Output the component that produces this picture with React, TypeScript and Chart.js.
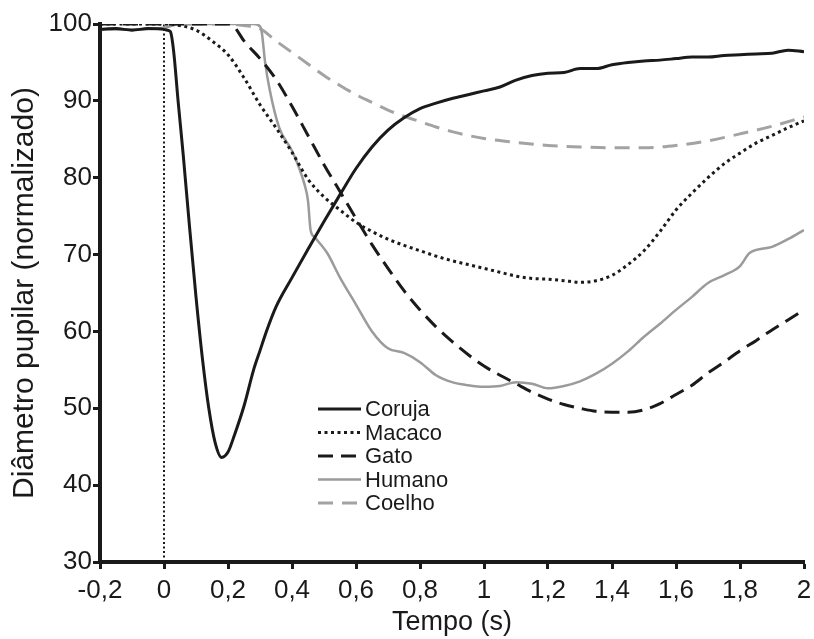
import React, { useEffect, useRef } from "react";
import { Chart, registerables } from "chart.js";

Chart.register(...registerables);

// ---- data (time in s, diameter normalised %) ----
const corujaT = [-0.2, -0.15, -0.1, -0.05, 0, 0.01, 0.02, 0.03, 0.044, 0.06, 0.08, 0.1, 0.12, 0.14, 0.16, 0.18, 0.2, 0.22, 0.25, 0.28, 0.3, 0.32, 0.35, 0.4, 0.45, 0.5, 0.55, 0.6, 0.65, 0.7, 0.75, 0.8, 0.85, 0.9, 0.95, 1.0, 1.05, 1.1, 1.15, 1.2, 1.25, 1.3, 1.35, 1.4, 1.45, 1.5, 1.55, 1.6, 1.65, 1.7, 1.75, 1.8, 1.85, 1.9, 1.95, 2.0];
const corujaY = [99.3, 99.4, 99.2, 99.4, 99.3, 99.2, 99.0, 96.5, 90, 83, 73.5, 64.5, 56.5, 50, 45.5, 43.6, 44.3, 46.5, 50.3, 55, 57.5, 60, 63.2, 67, 70.7, 74.3, 77.8, 81.2, 84, 86.2, 87.8, 89, 89.7, 90.3, 90.8, 91.3, 91.8, 92.7, 93.3, 93.6, 93.7, 94.2, 94.2, 94.7, 95, 95.2, 95.3, 95.5, 95.7, 95.7, 95.9, 96, 96.1, 96.2, 96.6, 96.4];

const macacoT = [-0.2, 0, 0.05, 0.1, 0.15, 0.2, 0.25, 0.3, 0.35, 0.4, 0.45, 0.5, 0.55, 0.6, 0.65, 0.7, 0.75, 0.8, 0.85, 0.9, 0.95, 1.0, 1.05, 1.1, 1.15, 1.2, 1.25, 1.3, 1.35, 1.4, 1.45, 1.5, 1.55, 1.6, 1.65, 1.7, 1.75, 1.8, 1.85, 1.9, 1.95, 2.0];
const macacoY = [100, 100, 99.8, 99.2, 97.8, 96, 93, 89.5, 86.5, 83.3, 79.8, 77.5, 75.8, 74.2, 73, 72, 71.2, 70.5, 69.8, 69.2, 68.7, 68.2, 67.7, 67.2, 66.9, 66.8, 66.6, 66.4, 66.6, 67.3, 68.7, 70.5, 73, 75.8, 78, 80, 81.8, 83.2, 84.5, 85.5, 86.5, 87.4];

const gatoT = [-0.2, 0, 0.2, 0.22, 0.25, 0.3, 0.35, 0.4, 0.45, 0.5, 0.55, 0.6, 0.65, 0.7, 0.75, 0.8, 0.85, 0.9, 0.95, 1.0, 1.05, 1.1, 1.15, 1.2, 1.25, 1.3, 1.35, 1.4, 1.45, 1.5, 1.55, 1.6, 1.65, 1.7, 1.75, 1.8, 1.85, 1.9, 1.95, 2.0];
const gatoY = [100, 100, 100, 99.6, 97.8, 95.5, 92.8, 89.3, 85.5, 81.7, 78.2, 74.7, 71.3, 68.2, 65.3, 62.8, 60.6, 58.7, 57, 55.5, 54.3, 53.2, 52.1, 51.2, 50.5, 50, 49.6, 49.5, 49.5, 49.8, 50.6, 51.8, 53, 54.6, 56, 57.5, 58.8, 60.2, 61.5, 62.8];

const humanoT = [-0.2, -0.1, 0, 0.05, 0.1, 0.2, 0.25, 0.28, 0.3, 0.306, 0.316, 0.33, 0.36, 0.4, 0.42, 0.44, 0.45, 0.458, 0.47, 0.51, 0.55, 0.6, 0.65, 0.7, 0.75, 0.8, 0.85, 0.9, 0.95, 1.0, 1.05, 1.1, 1.15, 1.2, 1.25, 1.3, 1.35, 1.4, 1.45, 1.5, 1.55, 1.6, 1.65, 1.7, 1.75, 1.8, 1.83, 1.9, 1.95, 2.0];
const humanoY = [99.3, 99.3, 99.5, 100, 100, 100, 100, 100, 99.7, 98.8, 95, 91.5, 86.5, 83.5, 81.5, 79, 77, 73.2, 72.3, 70.2, 67, 63.5, 60, 57.8, 57.2, 56, 54.3, 53.4, 53, 52.8, 52.9, 53.4, 53.2, 52.6, 52.9, 53.5, 54.5, 55.8, 57.4, 59.3, 61, 62.8, 64.5, 66.3, 67.3, 68.5, 70.2, 71, 72, 73.2];

const coelhoT = [0, 0.1, 0.2, 0.25, 0.3, 0.35, 0.4, 0.45, 0.5, 0.55, 0.6, 0.65, 0.7, 0.75, 0.8, 0.85, 0.9, 0.95, 1.0, 1.1, 1.2, 1.3, 1.4, 1.5, 1.6, 1.7, 1.8, 1.9, 2.0];
const coelhoY = [100, 100, 100, 99.8, 99.4, 97.8, 96.3, 94.8, 93.3, 92, 90.8, 89.8, 88.8, 88, 87.3, 86.6, 86, 85.5, 85.1, 84.6, 84.2, 84, 83.9, 83.9, 84.2, 84.8, 85.7, 86.7, 87.9];

// stimulus marker at t = 0
const stimT = [0, 0];
const stimY = [30, 100];

const seriesNames = ["Coruja", "Macaco", "Gato", "Humano", "Coelho"];
const xTickValues = [-0.2, 0, 0.2, 0.4, 0.6, 0.8, 1, 1.2, 1.4, 1.6, 1.8, 2];
const xTickLabels = ["-0,2", "0", "0,2", "0,4", "0,6", "0,8", "1", "1,2", "1,4", "1,6", "1,8", "2"];
const yTickValues = [30, 40, 50, 60, 70, 80, 90, 100];
const yTickLabels = ["30", "40", "50", "60", "70", "80", "90", "100"];

const xTitle = "Tempo (s)";
const yTitle = "Diâmetro pupilar (normalizado)";

const pts = (t: number[], y: number[]) => t.map((v, i) => ({ x: v, y: y[i] }));

const BLACK = "#1a1a1a";
const GRAY = "#9b9b9b";
const LGRAY = "#a3a3a3";
const FONT = "'Liberation Sans', Arial, sans-serif";

const legendPlugin = {
  id: "customLegend",
  afterDatasetsDraw(chart: any) {
    const { ctx, chartArea } = chart;
    const x0 = chartArea.left + 218;
    const y0 = chartArea.top + 385;
    const rowH = 23.5;
    ctx.save();
    ctx.font = `22px ${FONT}`;
    ctx.textBaseline = "middle";
    ctx.fillStyle = BLACK;
    seriesNames.forEach((name, i) => {
      const ds = chart.data.datasets[i];
      const y = y0 + i * rowH;
      ctx.save();
      ctx.strokeStyle = ds.borderColor;
      ctx.lineWidth = ds.borderWidth;
      ctx.setLineDash(ds.borderDash || []);
      ctx.lineCap = "butt";
      ctx.beginPath();
      ctx.moveTo(x0, y);
      ctx.lineTo(x0 + 43, y);
      ctx.stroke();
      ctx.restore();
      ctx.fillText(name, x0 + 47, y + 1);
    });
    ctx.restore();
  },
};

export default function App() {
  const ref = useRef<HTMLCanvasElement | null>(null);
  useEffect(() => {
    document.body.style.margin = "0";
    const canvas = ref.current!;
    const chart = new Chart(canvas, {
      type: "line",
      data: {
        datasets: [
          { label: "Coruja", data: pts(corujaT, corujaY), borderColor: BLACK, borderWidth: 3, borderDash: [], pointRadius: 0, cubicInterpolationMode: "monotone" },
          { label: "Macaco", data: pts(macacoT, macacoY), borderColor: BLACK, borderWidth: 3, borderDash: [3, 3.5], pointRadius: 0, cubicInterpolationMode: "monotone" },
          { label: "Gato", data: pts(gatoT, gatoY), borderColor: BLACK, borderWidth: 3, borderDash: [15, 8], pointRadius: 0, cubicInterpolationMode: "monotone" },
          { label: "Humano", data: pts(humanoT, humanoY), borderColor: GRAY, borderWidth: 2.5, borderDash: [], pointRadius: 0, cubicInterpolationMode: "monotone" },
          { label: "Coelho", data: pts(coelhoT, coelhoY), borderColor: LGRAY, borderWidth: 3, borderDash: [15, 9], pointRadius: 0, cubicInterpolationMode: "monotone" },
          { label: "t0", data: pts(stimT, stimY), borderColor: BLACK, borderWidth: 2, borderDash: [2, 2.5], pointRadius: 0 },
        ] as any,
      },
      options: {
        responsive: false,
        animation: false,
        devicePixelRatio: 1,
        layout: { padding: { top: 24, right: 10, left: 0, bottom: 0 } },
        plugins: { legend: { display: false }, tooltip: { enabled: false } },
        elements: { line: { tension: 0 } },
        scales: {
          x: {
            type: "linear",
            min: -0.2,
            max: 2,
            afterFit(scale: any) { scale.height = 77; scale.paddingLeft = 0; scale.paddingRight = 0; },
            afterBuildTicks(scale: any) { scale.ticks = xTickValues.map((v) => ({ value: v })); },
            ticks: {
              autoSkip: false,
              maxRotation: 0,
              padding: 6,
              color: BLACK,
              font: { family: FONT, size: 26 },
              callback: (_v: any, i: number) => xTickLabels[i],
            },
            grid: { drawOnChartArea: false, drawTicks: true, tickLength: 7, tickWidth: 3, tickColor: BLACK, color: BLACK },
            border: { display: true, width: 4, color: BLACK },
            title: { display: true, text: xTitle, color: BLACK, font: { family: FONT, size: 27 }, padding: { top: 1, bottom: 0 } },
          },
          y: {
            type: "linear",
            min: 30,
            max: 100,
            afterFit(scale: any) { scale.width = 100; scale.paddingTop = 0; scale.paddingBottom = 0; },
            afterBuildTicks(scale: any) { scale.ticks = yTickValues.map((v) => ({ value: v })); },
            ticks: {
              autoSkip: false,
              padding: 1,
              color: BLACK,
              font: { family: FONT, size: 26 },
              callback: (_v: any, i: number) => yTickLabels[i],
            },
            grid: { drawOnChartArea: false, drawTicks: true, tickLength: 7, tickWidth: 3, tickColor: BLACK, color: BLACK },
            border: { display: true, width: 4, color: BLACK },
            title: { display: true, text: yTitle, color: BLACK, font: { family: FONT, size: 30 }, padding: { top: 7, bottom: 0 } },
          },
        },
      } as any,
      plugins: [legendPlugin],
    });
    return () => chart.destroy();
  }, []);
  return (
    <div style={{ width: 814, height: 639 }}>
      <canvas ref={ref} width={814} height={639} style={{ display: "block" }} />
    </div>
  );
}
